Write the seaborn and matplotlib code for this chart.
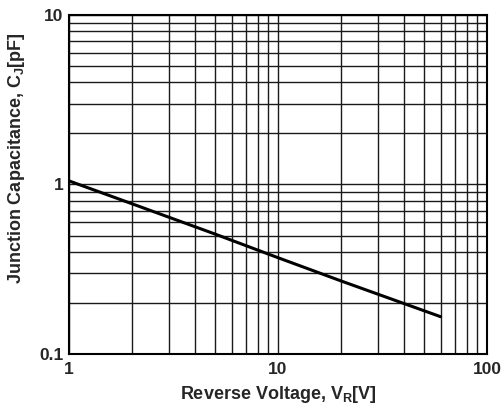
import matplotlib
matplotlib.use("Agg")
import matplotlib.pyplot as plt
import seaborn as sns
import pandas as pd

# Data (log-log straight line)
voltage = [1, 2, 5, 10, 20, 60]
capacitance = [1.05, 0.77, 0.51, 0.37, 0.27, 0.166]

x_ticks = [1, 10, 100]
x_tick_labels = ["1", "10", "100"]
y_ticks = [0.1, 1, 10]
y_tick_labels = ["0.1", "1", "10"]

sns.set_style("white")
plt.rcParams["font.family"] = ["Liberation Sans", "DejaVu Sans"]
plt.rcParams["mathtext.fontset"] = "custom"
plt.rcParams["mathtext.rm"] = "Liberation Sans:bold"

df = pd.DataFrame({"V": voltage, "C": capacitance})

fig = plt.figure(figsize=(5.02, 4.11), dpi=100)
ax = fig.add_axes([0.1375, 0.1387, 0.8325, 0.8248])

sns.lineplot(data=df, x="V", y="C", ax=ax, color="black", linewidth=2.2)

ax.set_xscale("log")
ax.set_yscale("log")
ax.set_xlim(1, 100)
ax.set_ylim(0.1, 10)

ax.grid(True, which="both", color="#1a1a1a", linewidth=1.0)
ax.set_axisbelow(True)
ax.tick_params(which="both", length=0)
ax.set_xticks(x_ticks)
ax.set_xticklabels(x_tick_labels, fontsize=12.5, fontweight="bold")
ax.set_yticks(y_ticks)
ax.set_yticklabels(y_tick_labels, fontsize=12.5, fontweight="bold")
ax.minorticks_on()
ax.tick_params(which="minor", length=0, labelbottom=False, labelleft=False)
ax.tick_params(axis="x", pad=6)
ax.tick_params(axis="y", pad=4)

for s in ax.spines.values():
    s.set_color("black")
    s.set_linewidth(1.5)

ax.set_xlabel(r"Reverse Voltage, V$_\mathregular{R}$[V]", fontsize=13, fontweight="bold", labelpad=5)
ax.set_ylabel(r"Junction Capacitance, C$_\mathregular{J}$[pF]", fontsize=13, fontweight="bold")
ax.yaxis.set_label_coords(-0.10, 0.578)

fig.savefig("out.png", dpi=100)
